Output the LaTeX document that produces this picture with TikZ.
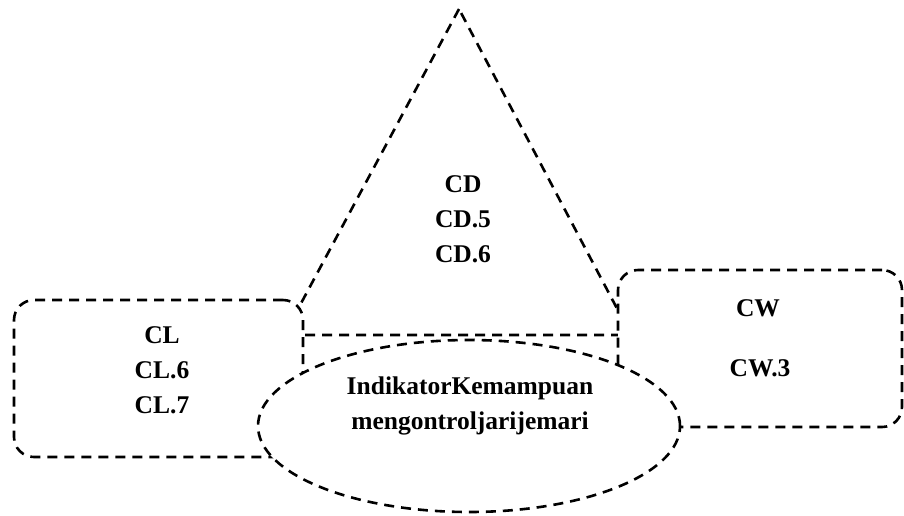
\documentclass[tikz,border=0pt]{standalone}
\usepackage{fontspec}
\setmainfont{Liberation Serif}
\usetikzlibrary{shapes.geometric}
\begin{document}
\begin{tikzpicture}[x=1pt,y=-1pt,
  dl/.style={line width=2.6pt, dash pattern=on 10pt off 7pt},
  box/.style={dl, draw, fill=white, rounded corners=20pt, rectangle, inner sep=0pt},
  oval/.style={dl, draw, fill=white, ellipse, inner sep=0pt},
  lbl/.style={font=\bfseries\fontsize{25.5}{35}\selectfont, align=center, inner sep=0pt}]
\useasboundingbox (0,0) rectangle (904,515);
% triangle
\coordinate (apex) at (459,9);
\coordinate (bl) at (284,335);
\coordinate (br) at (631,335);
\draw[dl] (apex) -- (bl) -- (br) -- cycle;
% boxes
\node[box, minimum width=289pt, minimum height=157pt] (L) at (158.5,378.5) {};
\node[box, minimum width=284pt, minimum height=157pt] (R) at (760,348.5) {};
% ellipse
\node[oval, minimum width=422pt, minimum height=172pt] (E) at (469,426) {};
% labels
\node[lbl] (cd) at (463,219) {CD\\CD.5\\CD.6};
\node[lbl] (cl) at (162,370) {CL\\CL.6\\CL.7};
\node[lbl] (cw) at (758,308) {CW};
\node[lbl] (cw3) at (760,368) {CW.3};
\node[lbl] (et) at (470,406) {IndikatorKemampuan\\mengontroljarijemari};
\end{tikzpicture}
\end{document}
